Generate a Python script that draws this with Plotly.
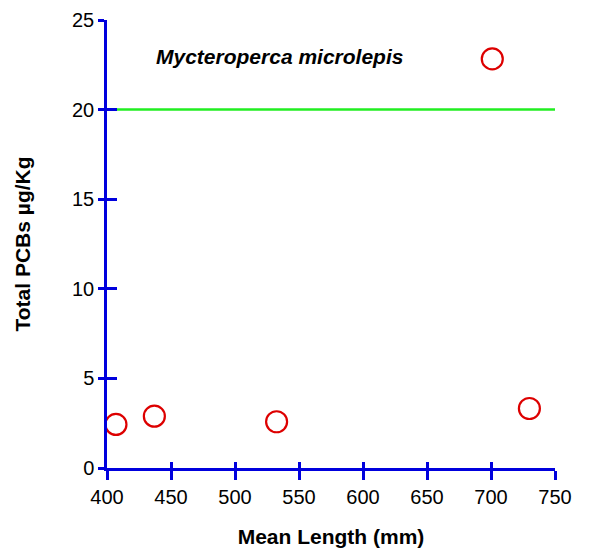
import plotly.graph_objects as go

# Data
mean_length = [407, 437, 532.5, 701, 730]
total_pcbs = [2.43, 2.89, 2.58, 22.83, 3.32]
threshold = 20
x_ticks = [400, 450, 500, 550, 600, 650, 700, 750]
y_ticks = [0, 5, 10, 15, 20, 25]

BLUE = "#0000dd"
GREEN = "#22ee22"
RED = "#dd0000"
FONT = "Liberation Sans, Arial, sans-serif"

fig = go.Figure()

fig.add_trace(go.Scatter(
    x=[x_ticks[0], x_ticks[-1]], y=[threshold, threshold],
    mode="lines", line=dict(color=GREEN, width=2.5),
    hoverinfo="skip", showlegend=False, cliponaxis=False,
))

fig.add_trace(go.Scatter(
    x=mean_length, y=total_pcbs, mode="markers",
    marker=dict(symbol="circle-open", size=21, color=RED, line=dict(color=RED, width=2.2)),
    showlegend=False, cliponaxis=False,
))

fig.add_annotation(
    x=535, y=22.96, xref="x", yref="y",
    text="<b><i>Mycteroperca microlepis</i></b>", showarrow=False,
    font=dict(family=FONT, size=21, color="black"),
)

axis_common = dict(showgrid=False, zeroline=False, tickcolor=BLUE, tickwidth=2.5,
                   linecolor=BLUE, linewidth=2.5, automargin=False,
                   tickfont=dict(family=FONT, size=20, color="black"))

fig.update_layout(
    width=591, height=552,
    margin=dict(l=107, r=36, t=20, b=84),
    plot_bgcolor="white", paper_bgcolor="white",
    xaxis=dict(range=[x_ticks[0], x_ticks[-1]], tickvals=x_ticks, ticks="outside", ticklen=9,
               showline=True,
               title=dict(text="<b>Mean Length (mm)</b>", font=dict(family=FONT, size=21, color="black"), standoff=23),
               **axis_common),
    yaxis=dict(range=[y_ticks[0], y_ticks[-1]], tickvals=y_ticks, ticks="outside", ticklen=6,
               showline=True,
               title=dict(text="<b>Total PCBs µg/Kg</b>", font=dict(family=FONT, size=21, color="black"), standoff=36),
               **axis_common),
    xaxis2=dict(range=[x_ticks[0], x_ticks[-1]], tickvals=x_ticks, ticks="inside", ticklen=6,
                overlaying="x", anchor="y", side="bottom", showticklabels=False,
                showgrid=False, zeroline=False, tickcolor=BLUE, tickwidth=2.5, showline=False),
    yaxis2=dict(range=[y_ticks[0], y_ticks[-1]], tickvals=y_ticks, ticks="inside", ticklen=10,
                overlaying="y", anchor="x", side="left", showticklabels=False,
                showgrid=False, zeroline=False, tickcolor=BLUE, tickwidth=2.5, showline=False),
)

# invisible trace to activate secondary axes
fig.add_trace(go.Scatter(x=[x_ticks[0]], y=[y_ticks[0]], xaxis="x2", yaxis="y2",
                         mode="markers", marker=dict(opacity=0), hoverinfo="skip", showlegend=False))

fig.write_html("out.html", config={"displayModeBar": False},
               post_script="document.body.style.margin='0';")
